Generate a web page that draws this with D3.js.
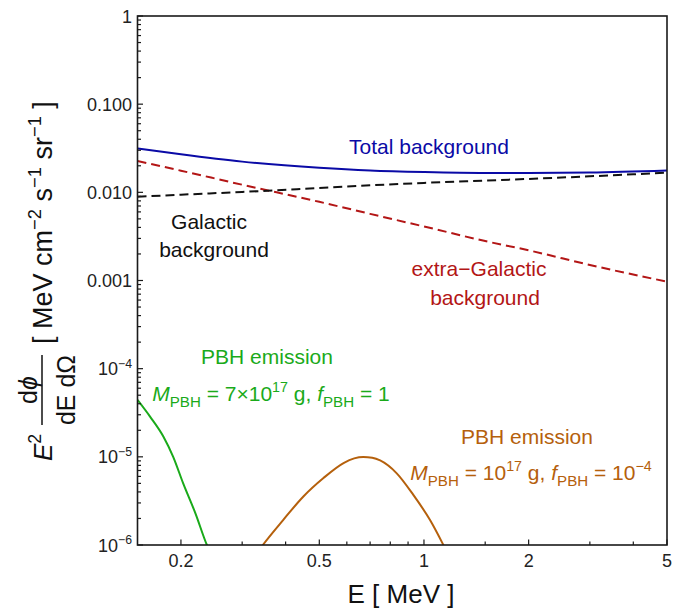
<!DOCTYPE html>
<html lang="en">
<head>
<meta charset="utf-8">
<title>PBH emission vs gamma-ray background</title>
<script src="https://cdn.jsdelivr.net/npm/d3@7"></script>
<style>
  body { margin: 0; background: #fff; }
  svg { font-family: "Liberation Sans", Arial, sans-serif; }
</style>
</head>
<body>
<script>
// energies (MeV) where the background curves were read
const bgEnergy = [0.15, 0.2, 0.3, 0.5, 0.7, 1, 1.5, 2, 3, 5];
const totalBg = [0.0315, 0.0270, 0.0223, 0.0190, 0.0177, 0.0170, 0.0166, 0.0166, 0.0168, 0.0177];
const galacticBg = [0.0089, 0.0094, 0.0101, 0.0112, 0.0120, 0.0128, 0.0136, 0.0142, 0.0152, 0.0167];
const extraGalBg = [0.0227, 0.0176, 0.0122, 0.0078, 0.0057, 0.0041, 0.0028, 0.0022, 0.0015, 0.00097];

// PBH 7e17 g, f = 1
const pbhEnergyA = [0.15, 0.163, 0.178, 0.190, 0.203, 0.220, 0.2375, 0.25];
const pbhFluxA = [4.43e-5, 2.86e-5, 1.7e-5, 1.0e-5, 5.0e-6, 2.3e-6, 1.0e-6, 6.5e-7];

// PBH 1e17 g, f = 1e-4
const pbhEnergyB = [0.33, 0.344, 0.394, 0.450, 0.514, 0.587, 0.63, 0.669, 0.71, 0.748, 0.835, 0.932, 1.04, 1.13, 1.17];
const pbhFluxB = [8.0e-7, 1.0e-6, 1.93e-6, 3.55e-6, 5.75e-6, 8.5e-6, 9.6e-6, 9.95e-6, 9.75e-6, 9.1e-6, 6.5e-6, 3.7e-6, 1.93e-6, 1.05e-6, 8.0e-7];

const xMajor = [0.2, 0.5, 1, 2, 5];
const xMajorLabels = ["0.2", "0.5", "1", "2", "5"];
const xMinor = [0.3, 0.4, 0.6, 0.7, 0.8, 0.9, 1.5, 3, 4];
const yMajor = [1, 0.1, 0.01, 0.001, 1e-4, 1e-5, 1e-6];
const yMajorLabels = [[["1", ""]], [["0.100", ""]], [["0.010", ""]], [["0.001", ""]],
  [["10", ""], ["−4", "sup"]], [["10", ""], ["−5", "sup"]], [["10", ""], ["−6", "sup"]]];

const blue = "#0a0aa6", red = "#b31616", green = "#1aaa1a", orange = "#b5600c";

const W = 686, H = 608;
const pLeft = 137.5, pRight = 667, pTop = 16, pBottom = 545;

const svg = d3.select("body").append("svg").attr("width", W).attr("height", H);

const x = d3.scaleLog().domain([0.15, 5]).range([pLeft, pRight]);
const y = d3.scaleLog().domain([1e-6, 1]).range([pBottom, pTop]);

// writes rich text: segments of [text, kind] with kind "", "i", "sub", "sup"
function rich(sel, segs, size) {
  let shift = 0;
  segs.forEach(([t, kind]) => {
    const ts = sel.append("tspan").text(t);
    let want = 0;
    if (kind === "sub") { want = size * 0.28; ts.attr("font-size", size * 0.72); }
    else if (kind === "sup") { want = -size * 0.42; ts.attr("font-size", size * 0.68); }
    else if (kind === "i") { ts.attr("font-style", "italic"); }
    ts.attr("dy", want - shift);
    shift = want;
  });
  return sel;
}

svg.append("clipPath").attr("id", "plot")
  .append("rect").attr("x", pLeft).attr("y", pTop).attr("width", pRight - pLeft).attr("height", pBottom - pTop);

const plot = svg.append("g").attr("clip-path", "url(#plot)");

const line = d3.line().x(d => x(d[0])).y(d => y(d[1])).curve(d3.curveMonotoneX);

function drawCurve(es, vs, color, dash) {
  plot.append("path")
    .datum(es.map((e, i) => [e, vs[i]]))
    .attr("d", line)
    .attr("fill", "none")
    .attr("stroke", color)
    .attr("stroke-width", 2)
    .attr("stroke-dasharray", dash || null);
}

drawCurve(bgEnergy, extraGalBg, red, "9,5");
drawCurve(bgEnergy, galacticBg, "#111", "9,5");
drawCurve(bgEnergy, totalBg, blue);
drawCurve(pbhEnergyA, pbhFluxA, green);
drawCurve(pbhEnergyB, pbhFluxB, orange);

// frame
svg.append("rect").attr("x", pLeft).attr("y", pTop).attr("width", pRight - pLeft).attr("height", pBottom - pTop)
  .attr("fill", "none").attr("stroke", "#1a1a1a").attr("stroke-width", 1.6);

// x ticks
const ax = svg.append("g").attr("stroke", "#1a1a1a").attr("stroke-width", 1.2);
xMajor.forEach(v => ax.append("line").attr("x1", x(v)).attr("x2", x(v)).attr("y1", pBottom).attr("y2", pBottom - 5.5));
xMinor.forEach(v => ax.append("line").attr("x1", x(v)).attr("x2", x(v)).attr("y1", pBottom).attr("y2", pBottom - 3.5));
svg.append("g").selectAll("text").data(xMajor).join("text")
  .attr("x", d => x(d)).attr("y", 567).attr("text-anchor", "middle")
  .attr("font-size", 18).attr("fill", "#222")
  .text((d, i) => xMajorLabels[i]);

// y ticks
yMajor.forEach(v => ax.append("line").attr("x1", pLeft).attr("x2", pLeft + 5.5).attr("y1", y(v)).attr("y2", y(v)));
d3.range(-6, 0).forEach(p => {
  for (let k = 2; k <= 9; k++) {
    const v = k * Math.pow(10, p);
    ax.append("line").attr("x1", pLeft).attr("x2", pLeft + 3.5).attr("y1", y(v)).attr("y2", y(v));
  }
});
yMajor.forEach((v, i) => {
  const t = svg.append("text").attr("x", 132).attr("y", y(v) + 6.5)
    .attr("text-anchor", "end").attr("font-size", 18).attr("fill", "#222");
  rich(t, yMajorLabels[i], 18);
});

// axis labels
svg.append("text").attr("x", 401).attr("y", 603).attr("text-anchor", "middle")
  .attr("font-size", 26).attr("fill", "#111").text("E [ MeV ]");

const yl = svg.append("g").attr("transform", "translate(52,0) rotate(-90)").attr("fill", "#111");
rich(yl.append("text").attr("x", -461).attr("y", 0).attr("font-size", 26), [["E", "i"], ["2", "sup"]], 26);
rich(yl.append("text").attr("x", -390).attr("y", -15).attr("text-anchor", "middle").attr("font-size", 25),
  [["d", ""], ["ϕ", "i"]], 25);
yl.append("text").attr("x", -390).attr("y", 23).attr("text-anchor", "middle").attr("font-size", 25).text("dE dΩ");
yl.append("line").attr("x1", -425).attr("x2", -355).attr("y1", -10).attr("y2", -10)
  .attr("stroke", "#111").attr("stroke-width", 1.5);
rich(yl.append("text").attr("x", -344).attr("y", 0).attr("font-size", 27),
  [["[ MeV cm", ""], ["−2", "sup"], [" s", ""], ["−1", "sup"], [" sr", ""], ["−1", "sup"], [" ]", ""]], 27);

// curve annotations
function label(cx, cy, segs, color) {
  const t = svg.append("text").attr("x", cx).attr("y", cy).attr("text-anchor", "middle")
    .attr("font-size", 21).attr("fill", color);
  rich(t, segs, 21);
}
label(429, 154, [["Total background", ""]], blue);
label(209, 229, [["Galactic", ""]], "#111");
label(214, 257, [["background", ""]], "#111");
label(479, 276, [["extra−Galactic", ""]], red);
label(485, 305, [["background", ""]], red);
label(267, 364, [["PBH emission", ""]], green);
label(271, 401, [["M", "i"], ["PBH", "sub"], [" = 7×10", ""], ["17", "sup"], [" g, ", ""], ["f", "i"], ["PBH", "sub"], [" = 1", ""]], green);
label(527, 444, [["PBH emission", ""]], orange);
label(531, 480, [["M", "i"], ["PBH", "sub"], [" = 10", ""], ["17", "sup"], [" g, ", ""], ["f", "i"], ["PBH", "sub"], [" = 10", ""], ["−4", "sup"]], orange);
</script>
</body>
</html>
